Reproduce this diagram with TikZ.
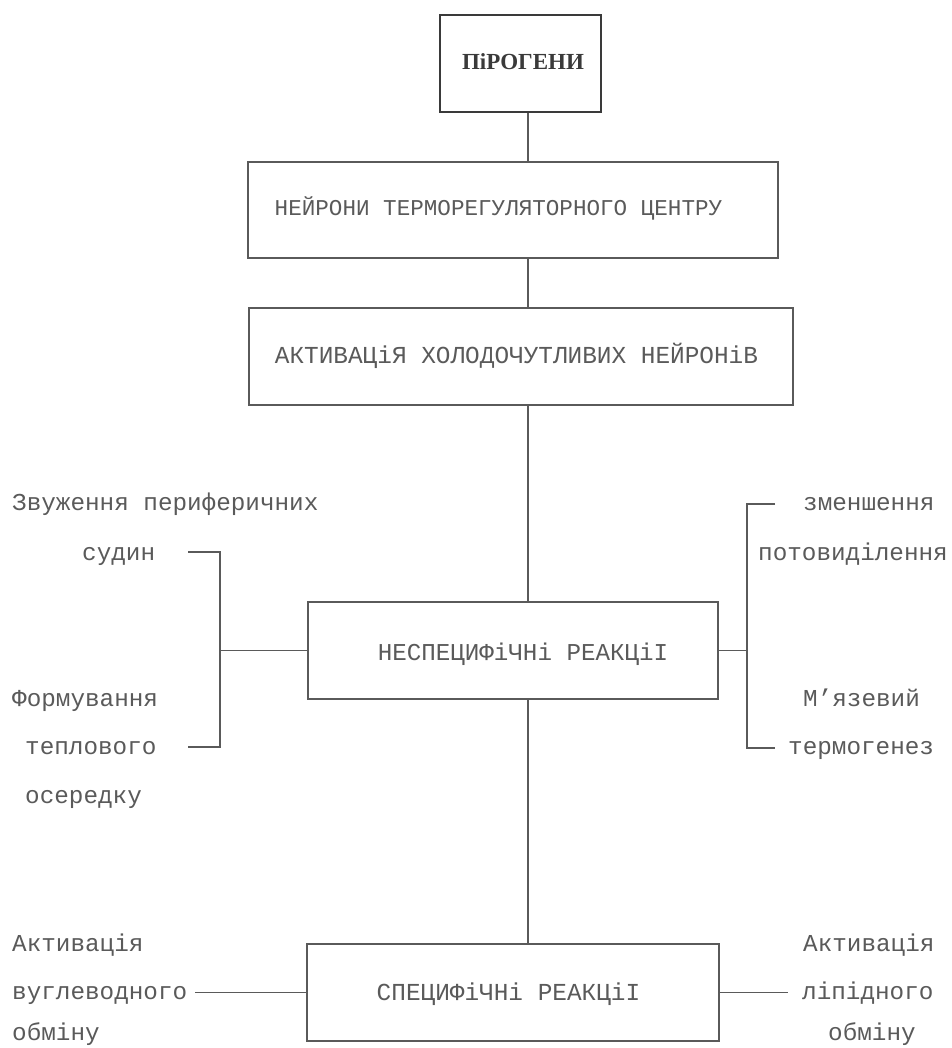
\documentclass[tikz,border=0pt]{standalone}
\usepackage{fontspec}
\setmonofont{Liberation Mono}
\newfontfamily\pirfont{Liberation Serif}
\definecolor{ink}{HTML}{5A5A5A}
\definecolor{darkink}{HTML}{3A3A3A}
\begin{document}
\begin{tikzpicture}[x=1pt,y=-1pt,
  conn/.style={draw=ink,line width=1.3pt},
  boxnode/.style={draw=ink,line width=1.4pt,rectangle,inner sep=0pt,fill=white},
  capfont/.style 2 args={text=ink,font=\ttfamily\fontsize{#1}{#1}\selectfont,text height=#2,text depth=0pt,inner sep=0pt},
  side/.style={text=ink,font=\ttfamily\fontsize{24.3}{28}\selectfont,anchor=west,inner sep=0pt,text height=12.9pt,text depth=0pt}
]
\useasboundingbox (0,0) rectangle (951,1048);
\fill[white] (0,0) rectangle (951,1048);

% boxes
\node[draw=darkink,line width=2.8pt,rectangle,inner sep=0pt,minimum width=161pt,minimum height=97pt,
  label={[text=darkink,font=\pirfont\bfseries\fontsize{23}{23}\selectfont,inner sep=0pt,text height=15.2pt,text depth=0pt,xshift=2.5pt,yshift=2pt]center:ПіРОГЕНИ}] (n1) at (520.5,63.5) {};
\node[boxnode,minimum width=530pt,minimum height=96pt,
  label={[capfont={22.6}{14.9pt},xshift=-14.5pt,yshift=2pt]center:НЕЙРОНИ ТЕРМОРЕГУЛЯТОРНОГО ЦЕНТРУ}] (n2) at (513,210) {};
\node[boxnode,minimum width=544pt,minimum height=97pt,
  label={[capfont={24.4}{16.1pt},xshift=-4.5pt,yshift=1.5pt]center:АКТИВАЦіЯ ХОЛОДОЧУТЛИВИХ НЕЙРОНіВ}] (n3) at (521,356.5) {};
\node[boxnode,minimum width=410pt,minimum height=97pt,
  label={[capfont={24.2}{16pt},xshift=10pt,yshift=-1.5pt]center:НЕСПЕЦИФіЧНі РЕАКЦіІ}] (n4) at (513,650.5) {};
\node[boxnode,minimum width=412pt,minimum height=97pt,
  label={[capfont={24.4}{16.1pt},xshift=-4.5pt,yshift=0pt]center:СПЕЦИФіЧНі РЕАКЦіІ}] (n5) at (513,992.5) {};

% spine
\coordinate (spine) at (528,0);
\draw[conn] (n1.south -| spine) -- (n2.north -| spine);
\draw[conn] (n2.south -| spine) -- (n3.north -| spine);
\draw[conn] (n3.south -| spine) -- (n4.north -| spine);
\draw[conn] (n4.south -| spine) -- (n5.north -| spine);

% left side texts
\node[side] (l1) at (12,504) {Звуження периферичних};
\node[side] (l2) at (82,554) {судин};
\node[side] (l3) at (12,700) {Формування};
\node[side] (l4) at (25,748) {теплового};
\node[side] (l5) at (25,797) {осередку};
\node[side] (l6) at (12,945) {Активація};
\node[side] (l7) at (12,993) {вуглеводного};
\node[side] (l8) at (12,1034) {обміну};

% right side texts
\node[side] (r1) at (803,504) {зменшення};
\node[side] (r2) at (758,554) {потовиділення};
\node[side] (r3) at (803,700) {М’язевий};
\node[side] (r4) at (788,748) {термогенез};
\node[side] (r6) at (803,945) {Активація};
\node[side] (r7) at (802,993) {ліпідного};
\node[side] (r8) at (828,1034) {обміну};

% left bracket
\coordinate (L1) at (188,552);
\coordinate (L2) at (188,747);
\coordinate (LV) at (220,0);
\draw[conn] (L1) -- (L1 -| LV) -- (L2 -| LV) -- (L2);
\draw[conn] (n4.west) -- (n4.west -| LV);

% right bracket
\coordinate (R1) at (775,504);
\coordinate (R2) at (775,748);
\coordinate (RV) at (747,0);
\draw[conn] (R1) -- (R1 -| RV) -- (R2 -| RV) -- (R2);
\draw[conn] (n4.east) -- (n4.east -| RV);

% bottom connectors
\coordinate (B1) at (195,0);
\coordinate (B2) at (788,0);
\draw[conn] (n5.west -| B1) -- (n5.west);
\draw[conn] (n5.east) -- (n5.east -| B2);
\end{tikzpicture}
\end{document}
